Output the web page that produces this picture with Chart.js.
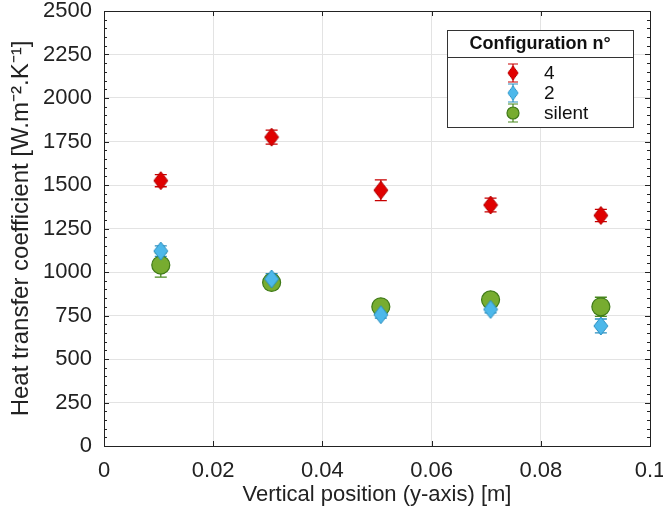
<!DOCTYPE html>
<html>
<head>
<meta charset="utf-8">
<script src="https://cdn.jsdelivr.net/npm/chart.js@4.4.0/dist/chart.umd.min.js"></script>
<style>
  html, body { margin: 0; padding: 0; background: #fff; }
  #wrap { width: 663px; height: 510px; }
</style>
</head>
<body>
<div id="wrap"><canvas id="htcChart"></canvas></div>
<script>
// vertical positions [m]
const positions = [0.0104, 0.0307, 0.0507, 0.0708, 0.0910];

// heat transfer coefficient per configuration, with error (+/-)
const config4 = [1525, 1775, 1470, 1385, 1325];
const config4Err = [35, 40, 60, 40, 35];
const config2 = [1120, 960, 755, 785, 690];
const config2Err = [30, 30, 20, 20, 40];
const silent = [1040, 940, 800, 840, 800];
const silentErr = [70, 40, 30, 25, 55];

const seriesNames = ['4', '2', 'silent'];
const xTicks = [0, 0.02, 0.04, 0.06, 0.08, 0.1];
const yTicks = [0, 250, 500, 750, 1000, 1250, 1500, 1750, 2000, 2250, 2500];

const FONT = 'Liberation Sans, Arial, Helvetica, sans-serif';

function makeDiamond(w, h, fill, stroke) {
    const c = document.createElement('canvas');
    c.width = w + 2; c.height = h + 2;
    const g = c.getContext('2d');
    g.beginPath();
    g.moveTo(c.width / 2, 1);
    g.lineTo(c.width - 1, c.height / 2);
    g.lineTo(c.width / 2, c.height - 1);
    g.lineTo(1, c.height / 2);
    g.closePath();
    g.fillStyle = fill; g.fill();
    g.strokeStyle = stroke; g.lineWidth = 1; g.stroke();
    return c;
}

const redDiamond = makeDiamond(14, 18, '#e00000', '#b00000');
const blueDiamond = makeDiamond(14, 18, '#4db8ea', '#2a8fc0');

const toPts = (ys) => ys.map((y, i) => ({ x: positions[i], y: y }));

const datasets = [
    { label: seriesNames[0], data: toPts(config4), err: config4Err, pointStyle: redDiamond,
      errColor: '#c80000', backgroundColor: '#e00000', borderColor: '#b00000' },
    { label: seriesNames[1], data: toPts(config2), err: config2Err, pointStyle: blueDiamond,
      errColor: '#2a8fc0', backgroundColor: '#4db8ea', borderColor: '#2a8fc0' },
    { label: seriesNames[2], data: toPts(silent), err: silentErr, pointStyle: 'circle', pointRadius: 9,
      errColor: '#4a8a20', backgroundColor: '#77ac30', borderColor: '#3f7a18', pointBorderWidth: 1.2 },
];

// error bars drawn under the markers
const errorBars = {
    id: 'errorBars',
    beforeDatasetsDraw(chart) {
        const ctx = chart.ctx;
        const xs = chart.scales.x, ys = chart.scales.y;
        chart.data.datasets.forEach(ds => {
            ctx.save();
            ctx.strokeStyle = ds.errColor;
            ctx.lineWidth = 1.3;
            ds.data.forEach((p, i) => {
                const px = xs.getPixelForValue(p.x);
                const top = ys.getPixelForValue(p.y + ds.err[i]);
                const bot = ys.getPixelForValue(p.y - ds.err[i]);
                ctx.beginPath();
                ctx.moveTo(px, top); ctx.lineTo(px, bot);
                ctx.moveTo(px - 6, top); ctx.lineTo(px + 6, top);
                ctx.moveTo(px - 6, bot); ctx.lineTo(px + 6, bot);
                ctx.stroke();
            });
            ctx.restore();
        });
    }
};

// box, minor ticks and legend in matlab style
const frame = {
    id: 'frame',
    afterDraw(chart) {
        const ctx = chart.ctx;
        const a = chart.chartArea;
        const ys = chart.scales.y, xs = chart.scales.x;
        ctx.save();
        ctx.strokeStyle = '#222';
        ctx.lineWidth = 1;
        // inward major ticks
        ctx.beginPath();
        xTicks.forEach(v => {
            const px = Math.round(xs.getPixelForValue(v)) + 0.5;
            ctx.moveTo(px, a.bottom); ctx.lineTo(px, a.bottom - 5);
            ctx.moveTo(px, a.top); ctx.lineTo(px, a.top + 5);
        });
        for (let v = 0; v <= 2500; v += 50) {
            const py = Math.round(ys.getPixelForValue(v)) + 0.5;
            const len = (v % 250 === 0) ? 5 : 3;
            ctx.moveTo(a.left, py); ctx.lineTo(a.left + len, py);
            ctx.moveTo(a.right, py); ctx.lineTo(a.right - len, py);
        }
        ctx.stroke();
        ctx.strokeRect(Math.round(a.left) + 0.5, Math.round(a.top) + 0.5,
                       Math.round(a.right - a.left), Math.round(a.bottom - a.top));

        // legend box
        const bx = a.right - 203, by = a.top + 19, bw = 186, bh = 97;
        ctx.fillStyle = '#fff';
        ctx.fillRect(bx, by, bw, bh);
        ctx.strokeStyle = '#333';
        ctx.strokeRect(bx + 0.5, by + 0.5, bw, bh);
        ctx.beginPath();
        ctx.moveTo(bx, by + 27.5); ctx.lineTo(bx + bw, by + 27.5);
        ctx.stroke();
        ctx.fillStyle = '#111';
        ctx.font = 'bold 18px ' + FONT;
        ctx.textAlign = 'center';
        ctx.textBaseline = 'middle';
        ctx.fillText('Configuration n°', bx + bw / 2, by + 14);
        ctx.font = '19px ' + FONT;
        ctx.textAlign = 'left';
        chart.data.datasets.forEach((ds, i) => {
            const cy = by + 43 + i * 20;
            const mx = bx + 66;
            ctx.strokeStyle = ds.errColor;
            ctx.lineWidth = 1.2;
            ctx.beginPath();
            ctx.moveTo(mx, cy - 9); ctx.lineTo(mx, cy + 9);
            ctx.moveTo(mx - 5, cy - 9); ctx.lineTo(mx + 5, cy - 9);
            ctx.moveTo(mx - 5, cy + 9); ctx.lineTo(mx + 5, cy + 9);
            ctx.stroke();
            if (ds.pointStyle === 'circle') {
                ctx.beginPath();
                ctx.arc(mx, cy, 6, 0, Math.PI * 2);
                ctx.fillStyle = ds.backgroundColor; ctx.fill();
                ctx.strokeStyle = ds.borderColor; ctx.stroke();
            } else {
                ctx.drawImage(ds.pointStyle, mx - 6, cy - 8, 12, 16);
            }
            ctx.fillStyle = '#111';
            ctx.fillText(ds.label, bx + 97, cy + 1);
        });
        ctx.restore();
    }
};

new Chart(document.getElementById('htcChart'), {
    type: 'scatter',
    data: { datasets: datasets },
    options: {
        responsive: true,
        maintainAspectRatio: false,
        animation: false,
        layout: { padding: { left: 7, right: 13, top: 11, bottom: 0 } },
        elements: { point: { radius: 8, borderWidth: 1 } },
        scales: {
            x: {
                type: 'linear', min: 0, max: 0.1,
                afterBuildTicks: s => { s.ticks = xTicks.map(v => ({ value: v })); },
                afterFit: s => { s.height = 64; s.paddingLeft = 0; s.paddingRight = 0; },
                grid: { color: '#e3e3e3', drawTicks: false },
                border: { display: false },
                ticks: {
                    padding: 12, color: '#222',
                    font: { family: FONT, size: 22 },
                    callback: v => String(parseFloat(v.toFixed(2)))
                },
                title: {
                    display: true, text: 'Vertical position (y-axis) [m]', color: '#222',
                    font: { family: FONT, size: 22 }, padding: { top: 0, bottom: 2 }
                }
            },
            y: {
                min: 0, max: 2500,
                afterBuildTicks: s => { s.ticks = yTicks.map(v => ({ value: v })); },
                afterFit: s => { s.width = 97; s.paddingTop = 0; s.paddingBottom = 0; },
                grid: { color: '#e3e3e3', drawTicks: false },
                border: { display: false },
                ticks: {
                    padding: 12, color: '#222',
                    font: { family: FONT, size: 22 },
                    callback: v => String(v)
                },
                title: {
                    display: true, text: 'Heat transfer coefficient [W.m⁻².K⁻¹]', color: '#222',
                    font: { family: FONT, size: 24 }, padding: { top: 0, bottom: 2 }
                }
            }
        },
        plugins: {
            legend: { display: false },
            tooltip: { enabled: false }
        }
    },
    plugins: [errorBars, frame]
});
</script>
</body>
</html>
